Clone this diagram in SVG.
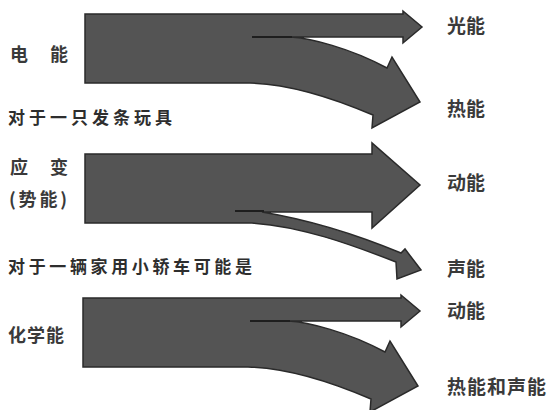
<svg xmlns="http://www.w3.org/2000/svg" width="551" height="410" viewBox="0 0 551 410">
<style>
.arrow{fill:#545454;stroke:#2a2a2a;stroke-width:1.5;stroke-linejoin:miter}
.split{fill:none;stroke:#1e1e1e;stroke-width:2}
.lbl{font-family:"Noto Sans CJK SC","Noto Sans",sans-serif;font-size:19px;font-weight:bold;fill:#3a3a3a}
.src{font-family:"Noto Sans CJK SC","Noto Sans",sans-serif;font-size:18px;font-weight:bold;fill:#3a3a3a}
.note{font-family:"Noto Sans CJK SC","Noto Sans",sans-serif;font-size:17px;font-weight:bold;fill:#2e2e2e}
</style>
<defs>
<path id="split3" d="M85,14 H403 V11 L422,27 L403,43 V37 H290 C310,38 350,48 387,68 L392,57 L420,102 L372,128 L373,115 C345,103 295,84 250,83 H85 Z"/>
</defs>
<g id="connectors">
<g id="flow-electric">
<use href="#split3" class="arrow"/>
<path class="split" d="M252,37 H292"/>
</g>
<g id="flow-spring">
<path class="arrow" d="M85,154 H372 V143 L420,185 L372,228 V212 H262 C310,220 360,236 401,253 L405,249 L421,270 L397,279 L396,262 C350,244 300,226 252,223 H85 Z"/>
<path class="split" d="M235,211 H264"/>
</g>
<g id="flow-chemical" transform="translate(-2,284)">
<use href="#split3" class="arrow"/>
<path class="split" d="M252,37 H292"/>
</g>
</g>
<g id="node-electric"><text class="src" x="10 50" y="61">电能</text></g>
<g id="node-toy-note"><text class="note" x="8" y="124" textLength="164" lengthAdjust="spacing">对于一只发条玩具</text></g>
<g id="node-strain"><text class="src" x="10 50" y="174">应变</text><text class="src" x="9" y="206" textLength="58" lengthAdjust="spacing">(势能)</text></g>
<g id="node-car-note"><text class="note" x="8" y="273" textLength="244" lengthAdjust="spacing">对于一辆家用小轿车可能是</text></g>
<g id="node-chemical"><text class="src" x="8" y="342" font-size="19" letter-spacing="1">化学能</text></g>
<g id="node-light"><text class="lbl" x="447" y="33">光能</text></g>
<g id="node-heat1"><text class="lbl" x="447" y="116">热能</text></g>
<g id="node-kinetic1"><text class="lbl" x="447" y="190">动能</text></g>
<g id="node-sound"><text class="lbl" x="447" y="276">声能</text></g>
<g id="node-kinetic2"><text class="lbl" x="447" y="318">动能</text></g>
<g id="node-heatsound"><text class="lbl" x="447" y="394" letter-spacing="1">热能和声能</text></g>
</svg>
